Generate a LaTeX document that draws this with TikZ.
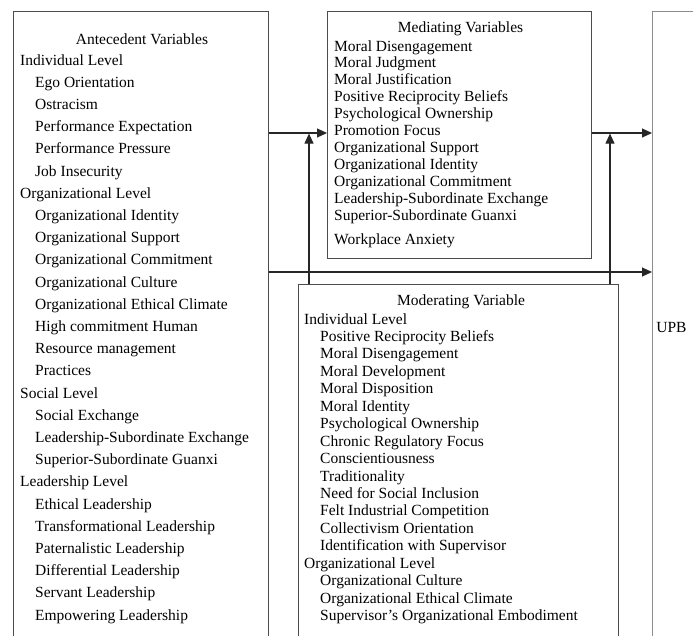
\documentclass[tikz,border=0pt]{standalone}
\usepackage{fontspec}
\setmainfont{Liberation Serif}
\usetikzlibrary{arrows.meta}
\begin{document}
\begin{tikzpicture}[x=1pt,y=-1pt,
  box/.style={draw=black!70, line width=1.1pt, anchor=north west, inner sep=0pt},
  upbbox/.style={draw=black!45, line width=1.1pt, anchor=north west, inner sep=0pt},
  link/.style={draw=black!85, line width=1.1pt},
  arr/.style={link, -{Triangle[length=10pt,width=9pt]}},
  txt/.style={anchor=base west, inner sep=0pt, font=\fontsize{15.5}{17}\selectfont},
  ttl/.style={anchor=base, inner sep=0pt, font=\fontsize{15.5}{17}\selectfont}]
\useasboundingbox (0,0) rectangle (693,635);
\clip (0,0) rectangle (693,635);
% boxes (open at the bottom: they run past the picture edge)
\node[box, minimum width=255pt, minimum height=660pt] (ante) at (13,11) {};
\node[box, minimum width=264pt, minimum height=247pt] (med) at (327,11) {};
\node[box, minimum width=320pt, minimum height=400pt] (mod) at (298,284) {};
\node[upbbox, minimum width=100pt, minimum height=660pt] (upb) at (652,11) {};
% titles
\node[ttl] (antet) at (142,44) {Antecedent Variables};
\node[ttl] (medt) at (460.5,32) {Mediating Variables};
\node[ttl] (modt) at (461,305) {Moderating Variable};
\node[ttl, anchor=center] (upbt) at (671.5,327) {UPB};
% antecedent list
\foreach \lv/\t [count=\i from 0] in {
  0/Individual Level, 1/Ego Orientation, 1/Ostracism, 1/Performance Expectation,
  1/Performance Pressure, 1/Job Insecurity, 0/Organizational Level,
  1/Organizational Identity, 1/Organizational Support, 1/Organizational Commitment,
  1/Organizational Culture, 1/Organizational Ethical Climate, 1/High commitment Human,
  1/Resource management, 1/Practices, 0/Social Level, 1/Social Exchange,
  1/Leadership-Subordinate Exchange, 1/Superior-Subordinate Guanxi, 0/Leadership Level,
  1/Ethical Leadership, 1/Transformational Leadership, 1/Paternalistic Leadership,
  1/Differential Leadership, 1/Servant Leadership, 1/Empowering Leadership}
  \node[txt] (a\i) at ({20+15*\lv},{65+22.2*\i}) {\t};
% mediating list
\foreach \t [count=\i from 0] in {
  Moral Disengagement, Moral Judgment, Moral Justification, Positive Reciprocity Beliefs,
  Psychological Ownership, Promotion Focus, Organizational Support, Organizational Identity,
  Organizational Commitment, Leadership-Subordinate Exchange, Superior-Subordinate Guanxi}
  \node[txt] (m\i) at (334,{51+16.9*\i}) {\t};
\node[txt] (m11) at (334,244) {Workplace Anxiety};
% moderating list
\foreach \lv/\t [count=\i from 0] in {
  0/Individual Level, 1/Positive Reciprocity Beliefs, 1/Moral Disengagement,
  1/Moral Development, 1/Moral Disposition, 1/Moral Identity, 1/Psychological Ownership,
  1/Chronic Regulatory Focus, 1/Conscientiousness, 1/Traditionality,
  1/Need for Social Inclusion, 1/Felt Industrial Competition, 1/Collectivism Orientation,
  1/Identification with Supervisor, 0/Organizational Level, 1/Organizational Culture,
  1/Organizational Ethical Climate, 1/Supervisor’s Organizational Embodiment}
  \node[txt] (d\i) at ({304+16*\lv},{324+17.45*\i}) {\t};
% connectors
\coordinate (ya) at (0,133);
\coordinate (yb) at (0,272);
\coordinate (xa) at (309,0);
\coordinate (xb) at (610,0);
\draw[arr] (ante.east |- ya) -- (med.west |- ya);
\draw[arr] (med.east |- ya) -- (upb.west |- ya);
\draw[arr] (ante.east |- yb) -- (upb.west |- yb);
\draw[arr] (xa |- mod.north) -- ([yshift=-0.6pt]xa |- ya);
\draw[arr] (xb |- mod.north) -- ([yshift=-0.6pt]xb |- ya);
\end{tikzpicture}
\end{document}
